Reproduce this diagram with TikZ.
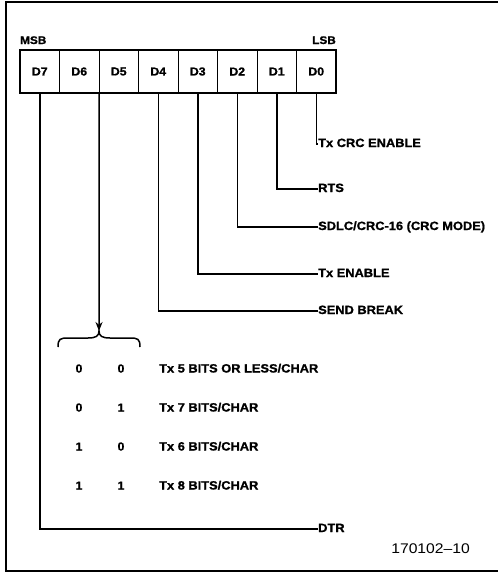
\documentclass[tikz,border=0pt]{standalone}
\usepackage{fontspec}
\setmainfont{Liberation Sans}
\newfontfamily\labfont{Liberation Sans}[FakeStretch=1.07, BoldFeatures={FakeBold=1.2}]
\newfontfamily\numfont{Liberation Sans}[FakeStretch=1.12]
\usetikzlibrary{arrows.meta}
\begin{document}
\begin{tikzpicture}[x=1pt,y=-1pt,
  cell/.style={minimum width=39.5pt, minimum height=43pt, inner sep=0pt,
    font=\labfont\bfseries\fontsize{11.5}{12}\selectfont},
  lab/.style={anchor=base west, inner sep=0pt,
    font=\labfont\bfseries\fontsize{12}{12}\selectfont},
  hdr/.style={inner sep=0pt, font=\labfont\bfseries\fontsize{11}{12}\selectfont},
  bitval/.style={inner sep=0pt, anchor=base, font=\labfont\bfseries\fontsize{11.5}{12}\selectfont},
  lead/.style={line width=1.5pt},
  divider/.style={line width=1.2pt},
]
\useasboundingbox (0,0) rectangle (498,574);
% frame
\draw[line width=1.3pt] (498,2) -- (6,2) -- (6,571) -- (498,571);
% register cells
\foreach \i/\n in {0/7,1/6,2/5,3/4,4/3,5/2,6/1,7/0}{
  \node[cell] (d\n) at ({20+19.75+39.5*\i},71.5) {D\n};
}
\draw[line width=2.2pt] (d7.north west) rectangle (d0.south east);
\foreach \n in {7,6,5,4,3,2,1}{
  \draw[divider] (d\n.north east) -- (d\n.south east);
}
\node[hdr, anchor=base west] (msb) at (20,44) {MSB};
\node[hdr, anchor=base east] (lsb) at (336,44) {LSB};
% labels
\node[lab] (l0) at (318,147) {Tx CRC ENABLE};
\node[lab] (l1) at (318,192) {RTS};
\node[lab] (l2) at (318,230) {SDLC/CRC-16 (CRC MODE)};
\node[lab] (l3) at (318,277) {Tx ENABLE};
\node[lab] (l4) at (318,314) {SEND BREAK};
\node[lab] (l7) at (318,532) {DTR};
% leaders
\draw[lead] (d0.south) |- ([yshift=3pt]l0.base west);
\draw[lead] (d1.south) |- ([yshift=3pt]l1.base west);
\draw[lead] (d2.south) |- ([yshift=3pt]l2.base west);
\draw[lead] (d3.south) |- ([yshift=3pt]l3.base west);
\draw[lead] (d4.south) |- ([yshift=3pt]l4.base west);
\draw[lead] (d7.south) |- ([yshift=3pt]l7.base west);
% brace and arrow
\coordinate (bt) at (99,331);
\draw[lead] (58,347) .. controls (58,339) and (60,338) .. (68,338) -- (88,338)
  .. controls (96,338) and (99,336) .. (bt)
  .. controls (99,336) and (102,338) .. (110,338) -- (130,338)
  .. controls (138,338) and (140,339) .. (140,347);
\draw[lead, -{Stealth[length=9pt,width=7pt]}] (d6.south east) -- (bt);
% table
\foreach \r/\a/\b/\t in {0/0/0/{Tx 5 BITS OR LESS/CHAR},1/0/1/{Tx 7 BITS/CHAR},2/1/0/{Tx 6 BITS/CHAR},3/1/1/{Tx 8 BITS/CHAR}}{
  \node[bitval] (a\r) at (79,{372.5+39*\r}) {\a};
  \node[bitval] (b\r) at (121,{372.5+39*\r}) {\b};
  \node[lab] (t\r) at (159,{372.5+39*\r}) {\t};
}
% footer
\node[inner sep=0pt, anchor=base east, font=\numfont\fontsize{14}{14}\selectfont] (fig) at (470,553) {170102\textendash 10};
\end{tikzpicture}
\end{document}
